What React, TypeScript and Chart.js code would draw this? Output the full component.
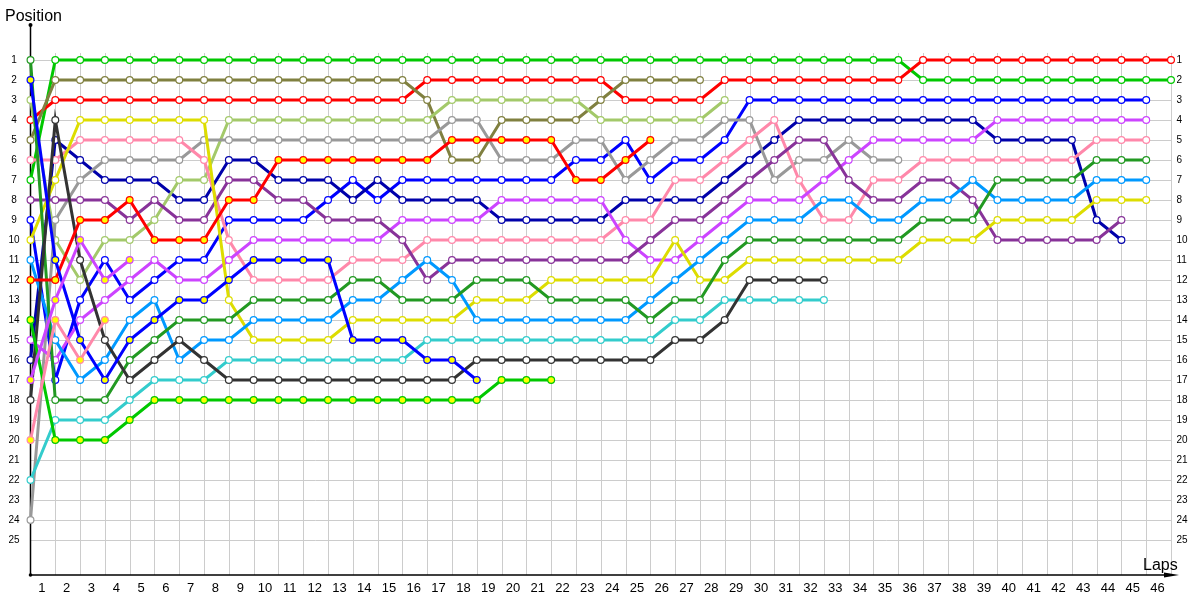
import { useEffect, useRef } from 'react';
import { Chart, registerables } from 'chart.js';

Chart.register(...registerables);

// Tick labels
const lapLabels = [1, 2, 3, 4, 5, 6, 7, 8, 9, 10, 11, 12, 13, 14, 15, 16, 17, 18, 19, 20, 21, 22, 23, 24, 25, 26, 27, 28, 29, 30, 31, 32, 33, 34, 35, 36, 37, 38, 39, 40, 41, 42, 43, 44, 45, 46];
const positionLabels = [1, 2, 3, 4, 5, 6, 7, 8, 9, 10, 11, 12, 13, 14, 15, 16, 17, 18, 19, 20, 21, 22, 23, 24, 25];

// Position of each car per lap (index = lap, 0 = grid)
const greenW = [7, 1, 1, 1, 1, 1, 1, 1, 1, 1, 1, 1, 1, 1, 1, 1, 1, 1, 1, 1, 1, 1, 1, 1, 1, 1, 1, 1, 1, 1, 1, 1, 1, 1, 1, 1, 2, 2, 2, 2, 2, 2, 2, 2, 2, 2, 2];
const redW = [4, 3, 3, 3, 3, 3, 3, 3, 3, 3, 3, 3, 3, 3, 3, 3, 2, 2, 2, 2, 2, 2, 2, 2, 3, 3, 3, 3, 2, 2, 2, 2, 2, 2, 2, 2, 1, 1, 1, 1, 1, 1, 1, 1, 1, 1, 1];
const oliveW = [5, 2, 2, 2, 2, 2, 2, 2, 2, 2, 2, 2, 2, 2, 2, 2, 3, 6, 6, 4, 4, 4, 4, 3, 2, 2, 2, 2];
const lightGreenW = [3, 10, 12, 10, 10, 9, 7, 7, 4, 4, 4, 4, 4, 4, 4, 4, 4, 3, 3, 3, 3, 3, 3, 4, 4, 4, 4, 4, 3];
const grayW = [24, 9, 7, 6, 6, 6, 6, 5, 5, 5, 5, 5, 5, 5, 5, 5, 5, 4, 4, 6, 6, 6, 5, 5, 7, 6, 5, 5, 4, 4, 7, 6, 6, 5, 6, 6];
const pinkW = [6, 6, 5, 5, 5, 5, 5, 6, 10, 12, 12, 12, 12, 11, 11, 11, 10, 10, 10, 10, 10, 10, 10, 10, 9, 9, 7, 7, 6, 5, 4, 7, 9, 9, 7, 7, 6, 6, 6, 6, 6, 6, 6, 5, 5, 5];
const redY = [12, 12, 9, 9, 8, 10, 10, 10, 8, 8, 6, 6, 6, 6, 6, 6, 6, 5, 5, 5, 5, 5, 7, 7, 6, 5];
const yellowW = [10, 7, 4, 4, 4, 4, 4, 4, 13, 15, 15, 15, 15, 14, 14, 14, 14, 14, 13, 13, 13, 12, 12, 12, 12, 12, 10, 12, 12, 11, 11, 11, 11, 11, 11, 11, 10, 10, 10, 9, 9, 9, 9, 8, 8, 8];
const blueW = [9, 17, 13, 11, 13, 12, 11, 11, 9, 9, 9, 9, 8, 7, 8, 7, 7, 7, 7, 7, 7, 7, 6, 6, 5, 7, 6, 6, 5, 3, 3, 3, 3, 3, 3, 3, 3, 3, 3, 3, 3, 3, 3, 3, 3, 3];
const blueY = [2, 11, 15, 17, 15, 14, 13, 13, 12, 11, 11, 11, 11, 15, 15, 15, 16, 16, 17];
const navyW = [16, 5, 6, 7, 7, 7, 8, 8, 6, 6, 7, 7, 7, 8, 7, 8, 8, 8, 8, 9, 9, 9, 9, 9, 8, 8, 8, 8, 7, 6, 5, 4, 4, 4, 4, 4, 4, 4, 4, 5, 5, 5, 5, 9, 10];
const purpleW = [8, 8, 8, 8, 9, 8, 9, 9, 7, 7, 8, 8, 9, 9, 9, 10, 12, 11, 11, 11, 11, 11, 11, 11, 11, 10, 9, 9, 8, 7, 6, 5, 5, 7, 8, 8, 7, 7, 8, 10, 10, 10, 10, 10, 9];
const violetW = [15, 16, 14, 13, 12, 11, 12, 12, 11, 10, 10, 10, 10, 10, 10, 9, 9, 9, 9, 8, 8, 8, 8, 8, 10, 11, 11, 10, 9, 8, 8, 8, 7, 6, 5, 5, 5, 5, 5, 4, 4, 4, 4, 4, 4, 4];
const violetY = [17, 13, 10, 12, 11];
const pinkY = [20, 14, 16, 14];
const skyBlueW = [11, 15, 17, 16, 14, 13, 16, 15, 15, 14, 14, 14, 14, 13, 13, 12, 11, 12, 14, 14, 14, 14, 14, 14, 14, 13, 12, 11, 10, 9, 9, 9, 8, 8, 9, 9, 8, 8, 7, 8, 8, 8, 8, 7, 7, 7];
const darkGreenW = [1, 18, 18, 18, 16, 15, 14, 14, 14, 13, 13, 13, 13, 12, 12, 13, 13, 13, 12, 12, 12, 13, 13, 13, 13, 14, 13, 13, 11, 10, 10, 10, 10, 10, 10, 10, 9, 9, 9, 7, 7, 7, 7, 6, 6, 6];
const turquoiseW = [22, 19, 19, 19, 18, 17, 17, 17, 16, 16, 16, 16, 16, 16, 16, 16, 15, 15, 15, 15, 15, 15, 15, 15, 15, 15, 14, 14, 13, 13, 13, 13, 13];
const blackW = [18, 4, 11, 15, 17, 16, 15, 16, 17, 17, 17, 17, 17, 17, 17, 17, 17, 17, 16, 16, 16, 16, 16, 16, 16, 16, 15, 15, 14, 12, 12, 12, 12];
const greenY = [14, 20, 20, 20, 19, 18, 18, 18, 18, 18, 18, 18, 18, 18, 18, 18, 18, 18, 18, 17, 17, 17];

const WHITE = '#ffffff';
const YELLOW = '#ffff00';

const series = [
  { data: pinkY, color: '#ff88aa', fill: YELLOW },
  { data: violetY, color: '#cc44ff', fill: YELLOW },
  { data: blueY, color: '#0000ff', fill: YELLOW },
  { data: greenY, color: '#00c800', fill: YELLOW },
  { data: redY, color: '#ff0000', fill: YELLOW },
  { data: blackW, color: '#333333', fill: WHITE },
  { data: turquoiseW, color: '#33cccc', fill: WHITE },
  { data: darkGreenW, color: '#229922', fill: WHITE },
  { data: skyBlueW, color: '#0099ff', fill: WHITE },
  { data: yellowW, color: '#dddd00', fill: WHITE },
  { data: purpleW, color: '#883399', fill: WHITE },
  { data: violetW, color: '#cc44ff', fill: WHITE },
  { data: pinkW, color: '#ff88aa', fill: WHITE },
  { data: grayW, color: '#999999', fill: WHITE },
  { data: lightGreenW, color: '#a3c96a', fill: WHITE },
  { data: oliveW, color: '#808040', fill: WHITE },
  { data: navyW, color: '#0000aa', fill: WHITE },
  { data: blueW, color: '#0000ff', fill: WHITE },
  { data: redW, color: '#ff0000', fill: WHITE },
  { data: greenW, color: '#00c800', fill: WHITE },
];

const lastLap = 46;
const gridTopValue = 0.65;

const framePlugin = {
  id: 'lapFrame',
  beforeDatasetsDraw(chart: any) {
    const { ctx } = chart;
    const x = chart.scales.x;
    const y = chart.scales.y;
    const x0 = x.getPixelForValue(0);
    const xEnd = x.getPixelForValue(lastLap);
    const yBottom = y.getPixelForValue(y.max);
    const yTop = y.getPixelForValue(y.min);
    ctx.save();
    ctx.strokeStyle = '#cccccc';
    ctx.lineWidth = 1;
    ctx.beginPath();
    for (const p of positionLabels) {
      const py = Math.round(y.getPixelForValue(p)) + 0.5;
      ctx.moveTo(x0, py);
      ctx.lineTo(xEnd + 0.5, py);
    }
    const gy = y.getPixelForValue(gridTopValue);
    for (const l of lapLabels) {
      const px = Math.round(x.getPixelForValue(l)) + 0.5;
      ctx.moveTo(px, gy);
      ctx.lineTo(px, yBottom);
    }
    ctx.stroke();

    // axes
    ctx.strokeStyle = '#000000';
    ctx.fillStyle = '#000000';
    ctx.lineWidth = 1.5;
    ctx.beginPath();
    ctx.moveTo(x0, yTop);
    ctx.lineTo(x0, yBottom);
    ctx.moveTo(x0, yBottom);
    ctx.lineTo(xEnd + 2, yBottom);
    ctx.stroke();
    ctx.beginPath();
    ctx.arc(x0, yTop, 2, 0, Math.PI * 2);
    ctx.fill();
    ctx.beginPath();
    ctx.arc(x0, yBottom, 1.8, 0, Math.PI * 2);
    ctx.fill();
    ctx.beginPath();
    ctx.moveTo(xEnd - 7, yBottom - 2.6);
    ctx.lineTo(xEnd + 8, yBottom);
    ctx.lineTo(xEnd - 7, yBottom + 2.6);
    ctx.closePath();
    ctx.fill();

    // tick labels
    ctx.fillStyle = '#000000';
    ctx.font = '10px "Liberation Sans", "DejaVu Sans", sans-serif';
    ctx.textBaseline = 'middle';
    for (const p of positionLabels) {
      const py = y.getPixelForValue(p);
      ctx.textAlign = 'center';
      ctx.fillText(String(p), 14, py);
      ctx.textAlign = 'left';
      ctx.fillText(String(p), xEnd + 5.5, py);
    }
    ctx.font = '13px "Liberation Sans", "DejaVu Sans", sans-serif';
    ctx.textAlign = 'center';
    for (const l of lapLabels) {
      ctx.fillText(String(l), x.getPixelForValue(l - 0.5) - 1, yBottom + 13);
    }

    // axis titles
    ctx.font = '16px "Liberation Sans", "DejaVu Sans", sans-serif';
    ctx.textBaseline = 'alphabetic';
    ctx.textAlign = 'left';
    ctx.fillText('Position', 5, 21);
    ctx.fillText('Laps', xEnd - 28, yBottom - 5);
    ctx.restore();
  },
};

export default function App() {
  const canvasRef = useRef<HTMLCanvasElement | null>(null);

  useEffect(() => {
    const canvas = canvasRef.current;
    if (!canvas) return;
    const chart = new Chart(canvas, {
      type: 'line',
      data: {
        datasets: series.map((s) => ({
          data: s.data.map((pos, lap) => ({ x: lap, y: pos })),
          borderColor: s.color,
          backgroundColor: s.color,
          borderWidth: 3,
          pointRadius: 3.4,
          pointHoverRadius: 3.4,
          pointBorderWidth: 1.2,
          pointBorderColor: s.color,
          pointBackgroundColor: s.fill,
          tension: 0,
          fill: false,
          clip: false as any,
        })),
      },
      options: {
        animation: false,
        responsive: false,
        devicePixelRatio: 1,
        events: [],
        layout: { padding: { left: 30.5, right: 29, top: 25, bottom: 25 } },
        plugins: {
          legend: { display: false },
          tooltip: { enabled: false },
          title: { display: false },
        },
        scales: {
          x: {
            type: 'linear',
            display: false,
            min: 0,
            max: lastLap,
          },
          y: {
            type: 'linear',
            display: false,
            reverse: true,
            min: -0.75,
            max: 26.75,
          },
        },
      },
      plugins: [framePlugin],
    });
    return () => chart.destroy();
  }, []);

  return (
    <div style={{ position: 'absolute', left: 0, top: 0, width: 1200, height: 600, background: '#ffffff' }}>
      <canvas ref={canvasRef} width={1200} height={600} style={{ display: 'block', width: 1200, height: 600 }} />
    </div>
  );
}
